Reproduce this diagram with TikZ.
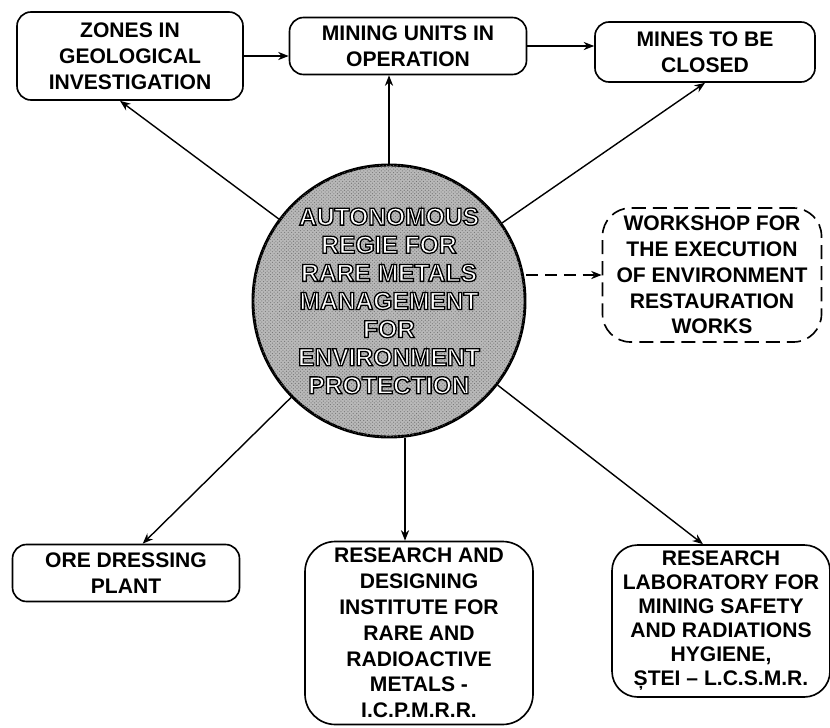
\documentclass[tikz,border=0pt]{standalone}
\usepackage{fontspec}
\setmainfont{Liberation Sans}
\usetikzlibrary{arrows.meta, positioning, patterns, calc}
% outlined lettering of the central disc
\newcommand{\hollowtxt}[1]{\special{pdf:literal direct 2 Tr 1.1 w 0 G}#1\special{pdf:literal direct 0 Tr}}
\tikzset{
	orgbox/.style={
			draw=black,
			line width=1.4pt,
			rounded corners=12pt,
			fill=white,
			align=center,
			inner sep=0pt,
			font=\fontsize{18}{22}\selectfont\bfseries
		},
	planbox/.style={
			orgbox,
			dash pattern=on 12pt off 6pt,
			rounded corners=24pt
		},
	hubnode/.style={
			circle,
			draw=black,
			line width=2.5pt,
			fill=gray!55,
			minimum size=8.16cm,
			inner sep=0pt,
			align=center,
			text=white,
			font=\fontsize{21}{24}\selectfont\bfseries,
			postaction={pattern=crosshatch dots, pattern color=black!55}
		},
	link/.style={
			line width=1.2pt,
			-{Stealth[length=9pt,width=7pt]}
		}
}
\begin{document}
\begin{tikzpicture}[x=0.03cm, y=-0.03cm]
\useasboundingbox (0,0) rectangle (830,728);
\node[hubnode] (hub) at (389,301) {\hollowtxt{AUTONOMOUS}\\\hollowtxt{REGIE FOR}\\\hollowtxt{RARE METALS}\\\hollowtxt{MANAGEMENT}\\\hollowtxt{FOR}\\\hollowtxt{ENVIRONMENT}\\\hollowtxt{PROTECTION}};

\node[orgbox, minimum width=6.78cm, minimum height=2.64cm] (zones) at (130,56) {ZONES IN\\GEOLOGICAL\\INVESTIGATION};
\node[orgbox, minimum width=7.11cm, minimum height=1.71cm] (mining) at (408,46) {MINING UNITS IN\\OPERATION};
\node[orgbox, minimum width=6.6cm, minimum height=1.8cm] (mines) at (705,52) {MINES TO BE\\CLOSED};
\node[planbox, minimum width=6.57cm, minimum height=4.02cm] (workshop) at (712,275) {WORKSHOP FOR\\THE EXECUTION\\OF ENVIRONMENT\\RESTAURATION\\WORKS};
\node[orgbox, minimum width=6.81cm, minimum height=1.71cm] (ore) at (126,573) {ORE DRESSING\\PLANT};
\node[orgbox, rounded corners=26pt, minimum width=6.84cm, minimum height=5.49cm] (rdi) at (419,633) {RESEARCH AND\\DESIGNING\\INSTITUTE FOR\\RARE AND\\RADIOACTIVE\\METALS -\\I.C.P.M.R.R.};
\node[orgbox, rounded corners=22pt, minimum width=6.54cm, minimum height=4.56cm, font=\fontsize{18}{20.5}\selectfont\bfseries] (lab) at (721,621) {RESEARCH\\LABORATORY FOR\\MINING SAFETY\\AND RADIATIONS\\HYGIENE,\\ȘTEI -- L.C.S.M.R.};

% top row
\draw[link] (zones.east) -- (zones.east -| mining.west);
\draw[link] (mining.east) -- (mining.east -| mines.west);

% from the disc
\draw[link] (hub) -- ([xshift=-0.3cm]zones.south);
\draw[link] (hub.north) -- (hub.north |- mining.south);
\draw[link] (hub) -- (mines.south);
\draw[link, dash pattern=on 10pt off 6pt] (hub.east |- workshop.west) -- (workshop.west);
\draw[link] (hub) -- ([xshift=0.5cm]ore.north);
\draw[link] ([xshift=-0.42cm]rdi.north |- hub.south) -- ([xshift=-0.42cm]rdi.north);
\draw[link] (hub) -- ([xshift=-0.54cm]lab.north);
\end{tikzpicture}
\end{document}
